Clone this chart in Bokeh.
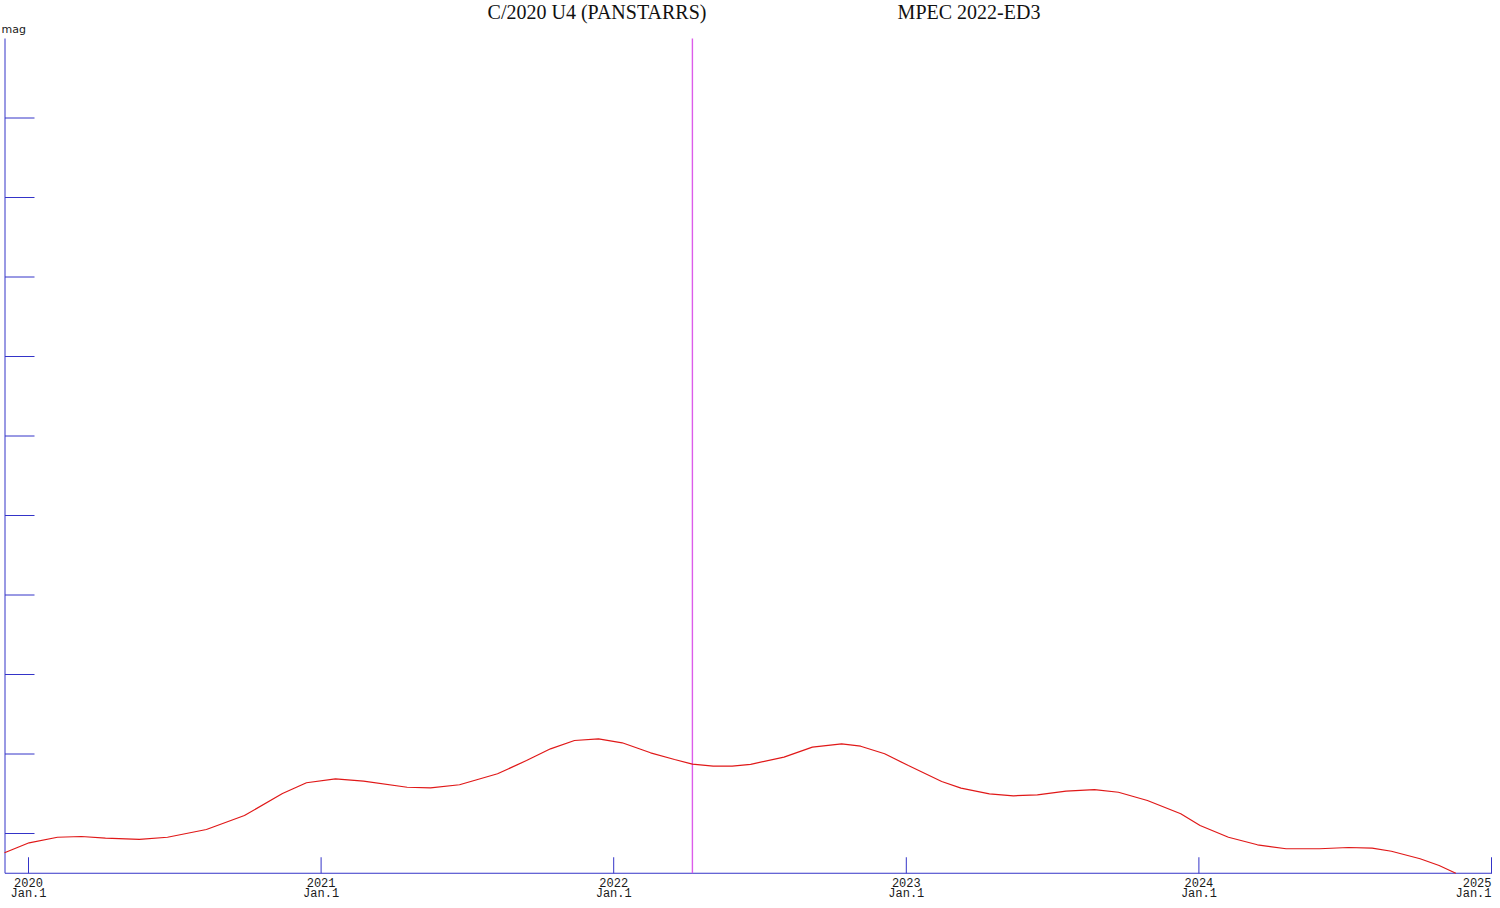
from bokeh.plotting import figure
from bokeh.models import Range1d
from bokeh.core.properties import value
from bokeh.embed import file_html
from bokeh.resources import INLINE

# ---------------- data ----------------
title_left = "C/2020 U4 (PANSTARRS)"
title_right = "MPEC 2022-ED3"
y_label = "mag"

# time in decimal years, total magnitude
years = [
    2019.918, 2020.002, 2020.099, 2020.181, 2020.263, 2020.379, 2020.475,
    2020.608, 2020.738, 2020.868, 2020.950, 2021.049, 2021.145, 2021.294,
    2021.374, 2021.473, 2021.603, 2021.702, 2021.784, 2021.866, 2021.948,
    2022.029, 2022.126, 2022.208, 2022.269, 2022.340, 2022.405, 2022.468,
    2022.582, 2022.679, 2022.779, 2022.844, 2022.926, 2023.007, 2023.121,
    2023.187, 2023.284, 2023.366, 2023.448, 2023.546, 2023.643, 2023.725,
    2023.824, 2023.938, 2024.004, 2024.101, 2024.200, 2024.298, 2024.412,
    2024.511, 2024.592, 2024.658, 2024.756, 2024.821, 2024.878,
]
mags = [
    18.243, 18.117, 18.047, 18.038, 18.059, 18.075, 18.047,
    17.950, 17.774, 17.497, 17.362, 17.312, 17.342, 17.418,
    17.425, 17.387, 17.249, 17.082, 16.935, 16.830, 16.809,
    16.859, 16.985, 17.069, 17.128, 17.153, 17.153, 17.130,
    17.040, 16.914, 16.872, 16.902, 16.997, 17.145, 17.346,
    17.430, 17.501, 17.526, 17.513, 17.468, 17.447, 17.481,
    17.585, 17.752, 17.899, 18.047, 18.142, 18.192, 18.192,
    18.176, 18.185, 18.223, 18.318, 18.403, 18.500,
]
mpec_year = 2022.269

year_ticks = [2020, 2021, 2022, 2023, 2024, 2025]
year_labels = ["2020", "2021", "2022", "2023", "2024", "2025"]
day_labels = ["Jan.1", "Jan.1", "Jan.1", "Jan.1", "Jan.1", "Jan.1"]
mag_ticks = [9, 10, 11, 12, 13, 14, 15, 16, 17, 18]
mag_top = 8.0
mag_bottom = 18.5

# ---------------- layout ----------------
W, H = 1492, 900
PX_PER_YEAR = 292.6
PX_PER_MAG = 79.5


def dx(px):
    return px / PX_PER_YEAR


def dy(px):
    return px / PX_PER_MAG


x_start = 2020 - dx(28)
x_end = x_start + dx(W)
y_top = 18 - dy(833)
y_bot = y_top + dy(H)

AXIS = "#3434C8"
RED = "#E01818"
MAGENTA = "#DC5CEA"
TEXT = "#1a1a1a"

p = figure(width=W, height=H, x_range=Range1d(x_start, x_end),
           y_range=Range1d(y_bot, y_top), output_backend="svg",
           toolbar_location=None, x_axis_type=None, y_axis_type=None,
           min_border=0, outline_line_color=None,
           background_fill_color="white", border_fill_color="white")
p.grid.visible = False

axis_x = x_start + dx(4.5)

# y axis
p.segment(x0=[axis_x], y0=[mag_top], x1=[axis_x], y1=[mag_bottom], line_color=AXIS, line_width=1)
p.segment(x0=[axis_x] * len(mag_ticks), y0=mag_ticks,
          x1=[x_start + dx(34)] * len(mag_ticks), y1=mag_ticks, line_color=AXIS, line_width=1)
# x axis
p.segment(x0=[axis_x], y0=[mag_bottom], x1=[x_end], y1=[mag_bottom], line_color=AXIS, line_width=1)
p.segment(x0=year_ticks, y0=[mag_bottom] * len(year_ticks), x1=year_ticks,
          y1=[mag_bottom - dy(16)] * len(year_ticks), line_color=AXIS, line_width=1)

# tick labels (the last one is right-aligned so it stays inside the canvas)
lab_x = year_ticks[:-1] + [x_end - dx(1)]
aligns = ["center"] * (len(year_ticks) - 1) + ["right"]
p.text(x=lab_x, y=[mag_bottom + dy(9.5)] * len(year_ticks), text=year_labels,
       text_font=value("Liberation Mono"), text_font_size="12px", text_color=TEXT,
       text_align=aligns, text_baseline="middle")
p.text(x=lab_x, y=[mag_bottom + dy(20.5)] * len(year_ticks), text=day_labels,
       text_font=value("Liberation Mono"), text_font_size="12px", text_color=TEXT,
       text_align=aligns, text_baseline="middle")

# y label, kept fully inside the canvas
p.text(x=[x_start + dx(1)], y=[y_top + dy(29)], text=[y_label],
       text_font=value("DejaVu Sans"), text_font_size="11px", text_color=TEXT,
       text_align="left", text_baseline="middle")

# MPEC date line
p.segment(x0=[mpec_year], y0=[mag_top], x1=[mpec_year], y1=[mag_bottom],
          line_color=MAGENTA, line_width=1.4)

# light curve
p.line(x=years, y=mags, line_color=RED, line_width=1.2)

# titles
p.text(x=[x_start + dx(596.5), x_start + dx(968.5)], y=[y_top + dy(11)] * 2,
       text=[title_left, title_right], text_font=value("Liberation Serif"),
       text_font_size="20px", text_color="#111111", text_align="center",
       text_baseline="middle")

open("out.html", "w").write(file_html(p, INLINE))
